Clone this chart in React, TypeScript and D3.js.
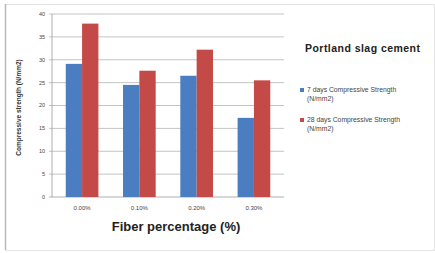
import React from "react";
import * as d3 from "d3";

const categories = ["0.00%", "0.10%", "0.20%", "0.30%"];
const series7 = [29.1, 24.5, 26.5, 17.3];
const series28 = [37.9, 27.6, 32.2, 25.5];
const seriesNames = ["7 days Compressive Strength", "28 days Compressive Strength"];
const yTicks = [0, 5, 10, 15, 20, 25, 30, 35, 40];
const colors = ["#4A7EC0", "#C44A48"];

export default function App() {
  const W = 435, H = 253;
  const left = 52, right = 284, top = 14, bottom = 197;
  const x0 = d3.scaleBand().domain(categories).range([left, right]).paddingInner(0.43).paddingOuter(0.24);
  const x1 = d3.scaleBand().domain(["a", "b"]).range([0, x0.bandwidth()]);
  const y = d3.scaleLinear().domain([0, 40]).range([bottom, top]);
  const font = "Liberation Sans, Arial, sans-serif";
  const data = [series7, series28];
  return (
    <svg width={W} height={H} style={{ position: "absolute", left: 0, top: 0, background: "#fff" }} fontFamily={font}>
      <rect x={0} y={0} width={W} height={H} fill="#fff" />
      <rect x={5.5} y={4.5} width={W - 6} height={H - 7} fill="none" stroke="#e4e4e4" />
      <line x1={5.5} x2={5.5} y1={4} y2={250} stroke="#b8b8b8" strokeWidth={1.5} />
      {yTicks.map((t) => (
        <g key={t}>
          <line x1={left - 3} x2={right} y1={y(t)} y2={y(t)} stroke={t === 0 ? "#999" : "#b5b5b5"} strokeWidth={0.8} />
          <text x={left - 7} y={y(t)} dy="0.35em" textAnchor="end" fontSize={5.5} fill="#444">{t}</text>
        </g>
      ))}
      <line x1={left} x2={left} y1={top} y2={bottom} stroke="#999" strokeWidth={0.8} />
      {categories.map((c, i) => (
        <g key={c}>
          {data.map((s, j) => (
            <rect key={j} x={(x0(c) as number) + (x1(j === 0 ? "a" : "b") as number)} y={y(s[i])}
              width={x1.bandwidth()} height={bottom - y(s[i])} fill={colors[j]} />
          ))}
          <text x={(x0(c) as number) + x0.bandwidth() / 2} y={210} textAnchor="middle" fontSize={6} fill="#444">{c}</text>
        </g>
      ))}
      <text x={176} y={231} textAnchor="middle" fontSize={13} fontWeight="bold" fill="#222">Fiber percentage (%)</text>
      <text transform={`translate(21,${(top + bottom) / 2 + 2}) rotate(-90)`} textAnchor="middle" fontSize={6.5} fontWeight="bold" fill="#333">Compressive strength (N/mm2)</text>
      <text x={305} y={52} fontSize={10.5} fontWeight="bold" fill="#222" textLength={115}>Portland slag cement</text>
      {seriesNames.map((n, j) => (
        <g key={n} transform={`translate(300,${90 + j * 30})`}>
          <rect x={0} y={-2} width={4} height={4} fill={colors[j]} />
          <text x={7} y={2} fontSize={6.8} fill="#444">{n}</text>
          <text x={7} y={11} fontSize={6.8} fill="#444">(N/mm2)</text>
        </g>
      ))}
    </svg>
  );
}
